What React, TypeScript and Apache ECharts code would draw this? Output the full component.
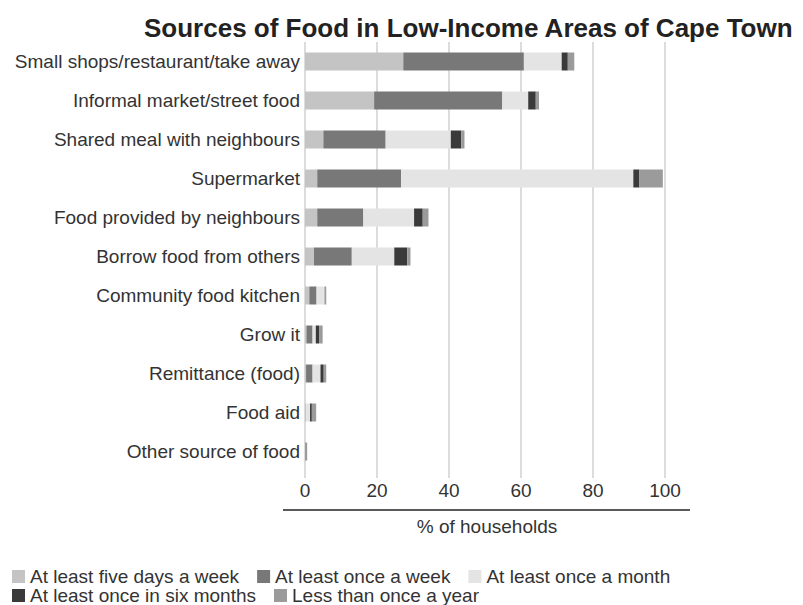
import React, { useEffect, useRef } from "react";
import * as echarts from "echarts";

const categories = [
  "Small shops/restaurant/take away",
  "Informal market/street food",
  "Shared meal with neighbours",
  "Supermarket",
  "Food provided by neighbours",
  "Borrow food from others",
  "Community food kitchen",
  "Grow it",
  "Remittance (food)",
  "Food aid",
  "Other source of food",
];

const seriesNames = [
  "At least five days a week",
  "At least once a week",
  "At least once a month",
  "At least once in six months",
  "Less than once a year",
];

const fiveDaysWeek = [27.3, 19.2, 5.1, 3.4, 3.4, 2.5, 1.2, 0.4, 0.3, 0.3, 0];
const onceWeek = [33.5, 35.6, 17.3, 23.3, 12.8, 10.5, 2.0, 1.7, 1.8, 0, 0];
const onceMonth = [10.5, 7.2, 18.1, 64.5, 14.1, 11.8, 2.2, 0.9, 2.2, 1.1, 0];
const onceSixMonths = [1.7, 2.1, 2.9, 1.7, 2.4, 3.6, 0, 0.9, 0.9, 0.5, 0];
const lessOnceYear = [1.8, 0.9, 0.9, 6.5, 1.6, 0.9, 0.5, 1.0, 0.7, 1.2, 0.6];

const xTicks = [0, 20, 40, 60, 80, 100];

const colors = ["#c4c4c4", "#787878", "#e4e4e4", "#3a3a3a", "#9b9b9b"];

export default function App() {
  const ref = useRef<HTMLDivElement>(null);
  useEffect(() => {
    if (!ref.current) return;
    const chart = echarts.init(ref.current, null, { renderer: "svg" });
    const values = [fiveDaysWeek, onceWeek, onceMonth, onceSixMonths, lessOnceYear];
    const font = "'Liberation Sans', Arial, sans-serif";
    const legendBase = {
      left: 7,
      itemWidth: 13,
      itemHeight: 13,
      itemGap: 18,
      icon: "rect",
      padding: 5,
      textStyle: { fontSize: 19, color: "#333", fontFamily: font },
    };
    chart.setOption({
      animation: false,
      textStyle: { fontFamily: font },
      title: {
        text: "Sources of Food in Low-Income Areas of Cape Town",
        left: 139,
        top: 10,
        textStyle: { fontSize: 26, fontWeight: "bold", color: "#222", fontFamily: font },
      },
      legend: [
        { ...legendBase, data: seriesNames.slice(0, 3), top: 562 },
        { ...legendBase, data: seriesNames.slice(3), top: 581 },
      ],
      grid: { left: 305, right: 138, top: 42, bottom: 134, containLabel: false },
      xAxis: {
        type: "value",
        min: 0,
        max: 100,
        interval: 20,
        axisLine: { show: false },
        axisTick: { show: true, length: 7, lineStyle: { color: "#dcdcdc", width: 2 } },
        splitLine: { show: true, lineStyle: { color: "#dcdcdc", width: 2 } },
        axisLabel: {
          fontSize: 19,
          color: "#333",
          margin: 10,
          customValues: xTicks,
        },
      },
      yAxis: {
        type: "category",
        data: categories,
        inverse: true,
        axisLine: { show: false },
        axisTick: { show: false },
        axisLabel: { fontSize: 19, color: "#333", margin: 5 },
      },
      series: seriesNames.map((name, i) => ({
        name,
        type: "bar",
        stack: "total",
        barWidth: 18,
        data: values[i],
        itemStyle: { color: colors[i] },
      })),
      graphic: [
        {
          type: "line",
          shape: { x1: 283, y1: 510, x2: 690, y2: 510 },
          style: { stroke: "#222", lineWidth: 1.5 },
        },
        {
          type: "text",
          x: 487,
          y: 526,
          style: {
            text: "% of households",
            fontSize: 19,
            fill: "#333",
            fontFamily: font,
            align: "center",
            verticalAlign: "middle",
          },
        },
      ],
    });
    return () => chart.dispose();
  }, []);
  return <div ref={ref} style={{ width: 803, height: 605, position: "absolute", left: 0, top: 0 }} />;
}
